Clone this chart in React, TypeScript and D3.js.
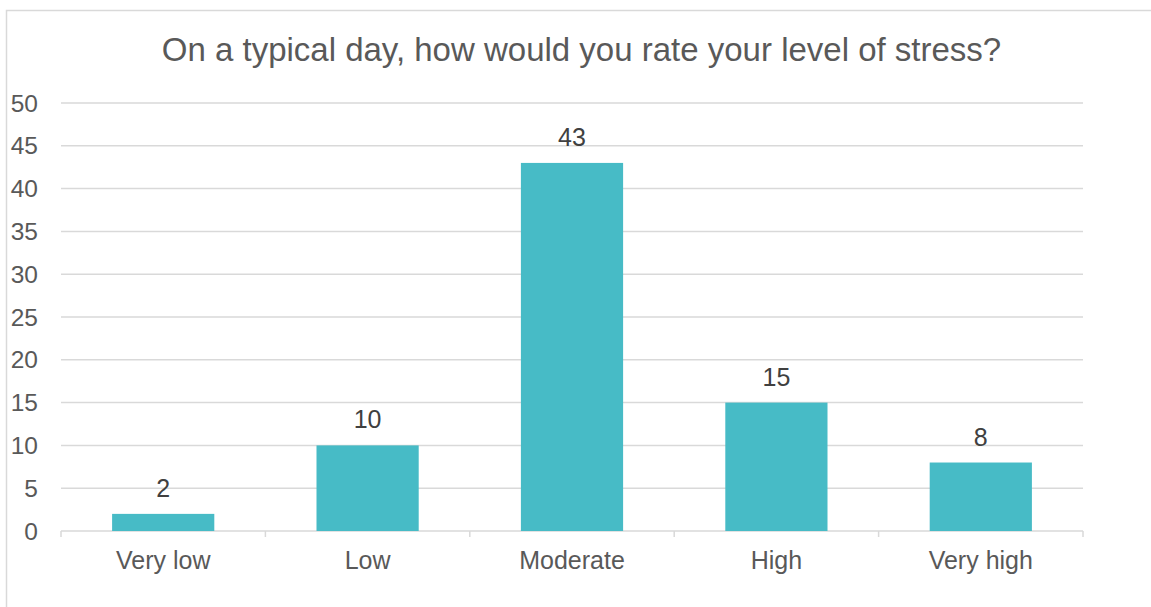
import React from "react";
import * as d3 from "d3";

const categories = ["Very low", "Low", "Moderate", "High", "Very high"];
const values = [2, 10, 43, 15, 8];
const yTicks = [0, 5, 10, 15, 20, 25, 30, 35, 40, 45, 50];
const title = "On a typical day, how would you rate your level of stress?";

const W = 1151;
const H = 607;
const FONT = "'Liberation Sans', Arial, sans-serif";

export default function App() {
  const x = d3.scaleBand<string>().domain(categories).range([61, 1083]).paddingInner(0.5).paddingOuter(0.25);
  const y = d3.scaleLinear().domain([0, 50]).range([531, 103]);
  const boundaries = d3.range(categories.length + 1).map((i) => 61 + (i * (1083 - 61)) / categories.length);

  return (
    <svg width={W} height={H} style={{ position: "absolute", left: 0, top: 0, background: "#fff" }}>
      <rect x={6.5} y={10.5} width={1200} height={700} fill="#fff" stroke="#d9d9d9" strokeWidth={1.5} />
      <text x={581.5} y={61} textAnchor="middle" fontFamily={FONT} fontSize={33} fill="#595959">
        {title}
      </text>
      {yTicks.map((t) => (
        <g key={t}>
          <line x1={61} x2={1083} y1={y(t)} y2={y(t)} stroke="#d9d9d9" strokeWidth={1.5} />
          <text x={38} y={y(t)} dy="0.35em" textAnchor="end" fontFamily={FONT} fontSize={24.5} fill="#595959">
            {t}
          </text>
        </g>
      ))}
      {boundaries.map((b, i) => (
        <line key={i} x1={b} x2={b} y1={531} y2={537} stroke="#d9d9d9" strokeWidth={1.5} />
      ))}
      {categories.map((c, i) => (
        <g key={c}>
          <rect x={x(c)} y={y(values[i])} width={x.bandwidth()} height={531 - y(values[i])} fill="#47bbc6" />
          <text x={x(c)! + x.bandwidth() / 2} y={y(values[i]) - 17} textAnchor="middle" fontFamily={FONT} fontSize={25} fill="#404040">
            {values[i]}
          </text>
          <text x={x(c)! + x.bandwidth() / 2} y={569} textAnchor="middle" fontFamily={FONT} fontSize={25} fill="#595959">
            {c}
          </text>
        </g>
      ))}
    </svg>
  );
}
